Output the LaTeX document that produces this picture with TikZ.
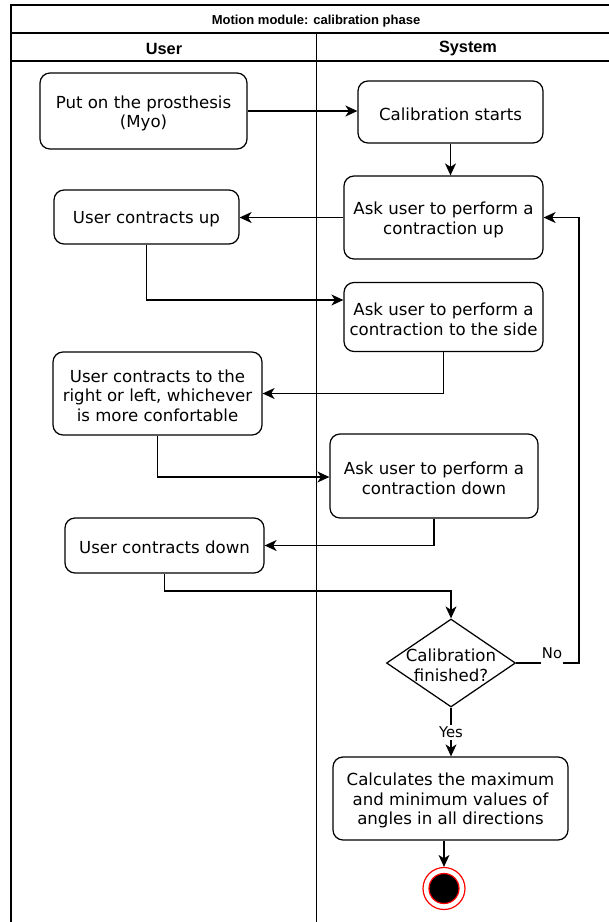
\documentclass[tikz,border=0pt]{standalone}
\usepackage{fontspec}
\setmainfont{DejaVu Sans}
\newfontfamily\hfont{Liberation Sans}
\usetikzlibrary{arrows.meta,shapes.geometric}
\begin{document}
\begin{tikzpicture}[x=1pt,y=-1pt,
  txt/.style={align=center, font=\fontsize{16.6}{19.5}\selectfont, inner sep=0pt, yshift=-2.2pt},
  box/.style={draw, rounded corners=10pt, line width=1.25pt, inner sep=0pt},
  conn/.style={line width=1.25pt, -{Stealth[length=12pt,width=11pt,inset=3.5pt]}},
  lbl/.style={fill=white, inner xsep=1pt, inner ysep=5pt, font=\fontsize{14.8}{17}\selectfont},
  frame/.style={line width=1.5pt}]
\useasboundingbox (0,0) rectangle (609,922);
\fill[white] (0,0) rectangle (609,922);
\begin{scope}
  \clip (0,0) rectangle (609,922);
  \draw[frame] (11,5) rectangle (621,940);
  \draw[frame] (11,33) -- (621,33);
  \draw[frame] (11,61) -- (621,61);
  \draw[frame] (316.5,33) -- (316.5,940);
\end{scope}
\node[font=\hfont\bfseries\fontsize{13}{15}\selectfont] (title) at (316,21) {Motion module: calibration phase};
\node[font=\hfont\bfseries\fontsize{16.3}{18}\selectfont] (huser) at (164,48.5) {User};
\node[font=\hfont\bfseries\fontsize{16.3}{18}\selectfont] (hsys) at (468,48.5) {System};

\node[box, minimum width=207pt, minimum height=76pt, label={[txt]center:{Put on the prosthesis\\(Myo)}}] (put) at (143.5,111) {};
\node[box, minimum width=185pt, minimum height=62pt, label={[txt]center:{Calibration starts}}] (calib) at (450.5,112) {};
\node[box, minimum width=199pt, minimum height=83pt, label={[txt]center:{Ask user to perform a\\contraction up}}] (askup) at (443.5,217.5) {};
\node[box, minimum width=185pt, minimum height=54pt, label={[txt]center:{User contracts up}}] (cup) at (146.5,217) {};
\node[box, minimum width=199pt, minimum height=69pt, label={[txt]center:{Ask user to perform a\\contraction to the side}}] (aside) at (443.5,317) {};
\node[box, minimum width=209pt, minimum height=83pt, label={[txt]center:{User contracts to the\\right or left, whichever\\is more confortable}}] (crl) at (157.5,393.5) {};
\node[box, minimum width=208pt, minimum height=84pt, label={[txt]center:{Ask user to perform a\\contraction down}}] (adown) at (434,476) {};
\node[box, minimum width=199pt, minimum height=55pt, label={[txt]center:{User contracts down}}] (cdown) at (164.5,545.5) {};
\node[draw, diamond, line width=1.25pt, minimum width=129pt, minimum height=88pt, inner sep=0pt,
  label={[txt]center:{Calibration\\finished?}}] (dia) at (451,663) {};
\node[box, minimum width=235pt, minimum height=83pt, label={[txt]center:{Calculates the maximum\\and minimum values of\\angles in all directions}}] (calc) at (450.5,798.5) {};
\node[circle, draw=red, line width=1.2pt, fill=white, minimum size=42pt, inner sep=0pt] (endo) at (444,888.5) {};
\node[circle, draw=red, line width=1.2pt, fill=black, minimum size=30pt, inner sep=0pt] (endi) at (444,888.5) {};

\draw[conn] (put.east) -- (put.east -| calib.west);
\draw[conn] (calib.south) -- (calib.south |- askup.north);
\draw[conn] (askup.west) -- (askup.west -| cup.east);
\draw[conn] (cup.south) |- (aside.west |- 0,300);
\draw[conn] (aside.south) |- (crl.east);
\draw[conn] (crl.south) |- (adown.west |- 0,477);
\draw[conn] (adown.south) |- (cdown.east);
\draw[conn] (cdown.south) -- (cdown.south |- 0,591) -| (dia.north);
\draw[conn] (dia.east) -- (579,663) |- (askup.east);
\draw[conn] (dia.south) -- (dia.south |- calc.north);
\draw[conn] (endo.north |- calc.south) -- (endo.north);
\node[lbl] (no) at (552,653) {No};
\node[lbl, inner ysep=2pt] (yes) at (451,732) {Yes};
\end{tikzpicture}
\end{document}
